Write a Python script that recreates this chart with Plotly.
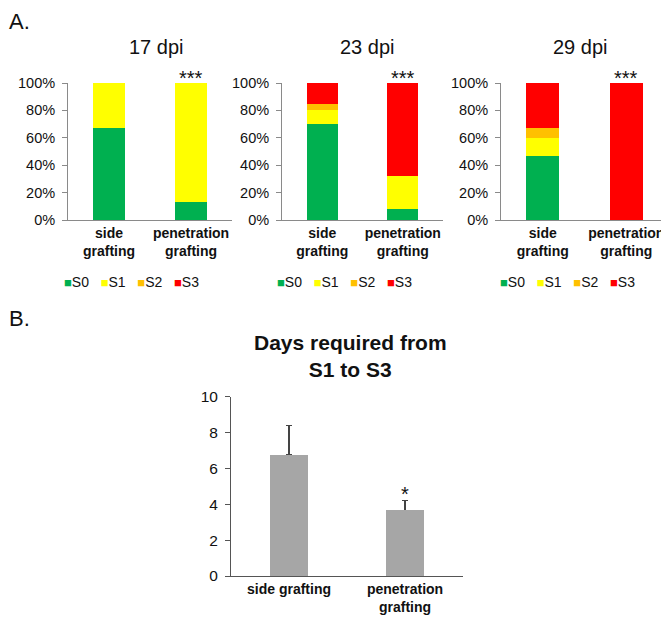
import plotly.graph_objects as go

# --- panel A: stage distribution (% of plants) ---
dpi_labels = ["17 dpi", "23 dpi", "29 dpi"]
categories = ["side<br>grafting", "penetration<br>grafting"]
stages = ["S0", "S1", "S2", "S3"]
stage_colors = ["#00B050", "#FFFF00", "#FFC000", "#FF0000"]
S0 = [[67, 13], [70, 8], [47, 0]]
S1 = [[33, 87], [10, 24], [13, 0]]
S2 = [[0, 0], [5, 0], [7, 0]]
S3 = [[0, 0], [15, 68], [33, 100]]
sig_A = [["", "***"], ["", "***"], ["", "***"]]
y_ticks_A = [0, 20, 40, 60, 80, 100]

# --- panel B: days from S1 to S3 ---
b_categories = ["side grafting", "penetration<br>grafting"]
days_mean = [6.75, 3.66]
days_err = [1.63, 0.56]
sig_B = ["", "*"]
y_ticks_B = [0, 2, 4, 6, 8, 10]

W, H = 669, 622
OFF = 8  # page body margin around the plot div
FONT = "Liberation Sans, Arial, sans-serif"


def px(x):
    return (x - OFF) / W


def py(y):
    return 1 - (y - OFF) / H


# domains (pixels)
x_dom = [(68, 232), (282, 443), (501, 668)]
title_x = [156, 367, 580]
legend_x = [131, 344, 567]
yA = (py(220), py(83))

fig = go.Figure()
stage_vals = [S0, S1, S2, S3]
annotations = []

for p in range(3):
    n = "" if p == 0 else str(p + 1)
    for s, name in enumerate(stages):
        fig.add_trace(go.Bar(
            x=categories, y=stage_vals[s][p], name=name,
            marker=dict(color=stage_colors[s], line=dict(width=0)),
            width=0.39, xaxis="x" + n, yaxis="y" + n, showlegend=False,
        ))
    fig.layout["xaxis" + n] = dict(
        domain=[px(x_dom[p][0]), px(x_dom[p][1])], anchor="y" + n,
        showline=True, linecolor="#8a8a8a", linewidth=1, ticks="",
        tickfont=dict(family=FONT, size=14, color="#111", weight="bold"),
    )
    fig.layout["yaxis" + n] = dict(
        domain=list(yA), anchor="x" + n, range=[0, 100],
        tickvals=y_ticks_A, ticktext=["%d%%" % v for v in y_ticks_A],
        showline=True, linecolor="#8a8a8a", linewidth=1,
        ticks="outside", ticklen=5, tickcolor="#8a8a8a",
        ticklabelstandoff=4, showgrid=False, zeroline=False,
        tickfont=dict(family=FONT, size=14.5, color="#111"),
    )
    annotations.append(dict(
        text=dpi_labels[p], xref="paper", yref="paper",
        x=px(title_x[p]), y=py(47), xanchor="center", yanchor="middle",
        showarrow=False, font=dict(family=FONT, size=20, color="#111"),
    ))
    for c, lab in enumerate(sig_A[p]):
        if lab:
            annotations.append(dict(
                text=lab, xref="x" + n, yref="y" + n, x=categories[c], y=100,
                xanchor="center", yanchor="bottom", yshift=-8, showarrow=False,
                font=dict(family=FONT, size=20, color="#111"),
            ))
    legend_text = "   ".join(
        '<span style="color:%s;font-size:13px">■</span>%s' % (col, s)
        for col, s in zip(stage_colors, stages)
    )
    annotations.append(dict(
        text=legend_text, xref="paper", yref="paper",
        x=px(legend_x[p]), y=py(282), xanchor="center", yanchor="middle",
        showarrow=False, font=dict(family=FONT, size=14, color="#111"),
    ))

# panel B: error bars on an unstacked clear copy (base=0), drawn first so
# the grey bars cover the lower cap
fig.add_trace(go.Bar(
    x=b_categories, y=days_mean, base=0, width=0.32,
    marker=dict(color="rgba(0,0,0,0)", line=dict(width=0)),
    error_y=dict(type="data", symmetric=False, array=days_err,
                 arrayminus=[0] * len(days_err), color="#444",
                 thickness=1.2, width=3),
    xaxis="x4", yaxis="y4", showlegend=False, hoverinfo="skip",
))
fig.add_trace(go.Bar(
    x=b_categories, y=days_mean, width=0.32,
    marker=dict(color="#A6A6A6", line=dict(width=0)),
    xaxis="x4", yaxis="y4", showlegend=False,
))
fig.layout["xaxis4"] = dict(
    domain=[px(231), px(463)], anchor="y4",
    showline=True, linecolor="#555", linewidth=1, ticks="",
    tickfont=dict(family=FONT, size=14, color="#111", weight="bold"),
)
fig.layout["yaxis4"] = dict(
    domain=[py(576), py(396.7)], anchor="x4", range=[0, 10],
    tickvals=y_ticks_B, showline=True, linecolor="#555", linewidth=1,
    ticks="outside", ticklen=5, tickcolor="#555", ticklabelstandoff=4,
    showgrid=False, zeroline=False,
    tickfont=dict(family=FONT, size=15.5, color="#111"),
)
for c, lab in enumerate(sig_B):
    if lab:
        annotations.append(dict(
            text=lab, xref="x4", yref="y4", x=b_categories[c],
            y=days_mean[c] + days_err[c], xanchor="center", yanchor="bottom",
            yshift=-7, showarrow=False,
            font=dict(family=FONT, size=20, color="#111"),
        ))
annotations.append(dict(
    text="<b>Days required from<br>S1 to S3</b>", xref="paper", yref="paper",
    x=px(350), y=py(356), xanchor="center", yanchor="middle", showarrow=False,
    font=dict(family=FONT, size=21, color="#111"),
))

# panel letters
annotations.append(dict(text="A.", xref="paper", yref="paper", x=0, y=1,
                        xanchor="left", yanchor="top", showarrow=False,
                        borderpad=0, font=dict(family=FONT, size=22, color="#111")))
annotations.append(dict(text="B.", xref="paper", yref="paper", x=0, y=py(305),
                        xanchor="left", yanchor="top", showarrow=False,
                        borderpad=0, font=dict(family=FONT, size=22, color="#111")))

fig.update_layout(
    width=W, height=H,
    margin=dict(l=0, r=0, t=0, b=0, pad=0, autoexpand=False),
    barmode="stack", plot_bgcolor="white", paper_bgcolor="white",
    annotations=annotations, font=dict(family=FONT), showlegend=False,
)

fig.write_html("out.html")
